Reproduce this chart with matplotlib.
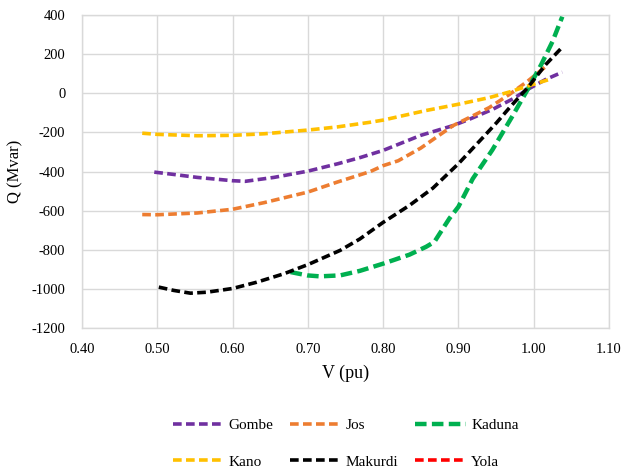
import matplotlib
matplotlib.use("Agg")
import matplotlib.pyplot as plt

plt.rcParams['font.family'] = ['Liberation Serif', 'DejaVu Serif']
plt.rcParams['axes.unicode_minus'] = False

# values (V in pu, Q in Mvar)
gombe_v = [0.496, 0.52, 0.553, 0.60, 0.617, 0.655, 0.70, 0.74, 0.77, 0.80, 0.85, 0.893,
           0.915, 0.946, 0.973, 0.992, 1.016, 1.038]
gombe_q = [-403, -414, -430, -447, -450, -430, -398, -360, -328, -292, -215, -165,
           -132, -81, -27, 20, 71, 108]

jos_v = [0.48, 0.50, 0.553, 0.60, 0.642, 0.70, 0.739, 0.783, 0.80, 0.82, 0.85, 0.893,
         0.915, 0.941, 0.968, 0.992, 1.017]
jos_q = [-620, -621, -612, -593, -559, -505, -454, -400, -370, -345, -280, -165,
         -123, -73, -5, 62, 140]

kaduna_v = [0.677, 0.699, 0.716, 0.743, 0.769, 0.80, 0.835, 0.857, 0.868, 0.888, 0.90,
            0.919, 0.945, 0.972, 0.992, 1.01, 1.025, 1.038]
kaduna_q = [-914, -931, -936, -931, -908, -871, -825, -785, -760, -640, -580,
            -437, -290, -115, 20, 147, 265, 392]

kano_v = [0.48, 0.50, 0.553, 0.60, 0.642, 0.70, 0.739, 0.783, 0.80, 0.857, 0.90, 0.941,
          0.968, 0.992, 1.021]
kano_q = [-204, -210, -217, -215, -207, -188, -172, -148, -137, -88, -56, -22,
          7, 37, 71]

makurdi_v = [0.502, 0.522, 0.544, 0.566, 0.60, 0.632, 0.668, 0.70, 0.743, 0.769, 0.80,
             0.835, 0.866, 0.90, 0.933, 0.951, 0.968, 0.992, 1.016, 1.038]
makurdi_q = [-991, -1008, -1022, -1017, -998, -966, -923, -876, -803, -745, -660,
             -573, -485, -360, -224, -149, -73, 29, 147, 236]

yola_v = []
yola_q = []

xticks = [0.40, 0.50, 0.60, 0.70, 0.80, 0.90, 1.00, 1.10]
yticks = [-1200, -1000, -800, -600, -400, -200, 0, 200, 400]

fig = plt.figure(figsize=(6.25, 4.72), dpi=100)
ax = fig.add_axes([0.1312, 0.3051, 0.8432, 0.663])

style = dict(lw=2.6, dashes=(2.4, 1.2))
l1, = ax.plot(gombe_v, gombe_q, color='#7030A0', label='Gombe', **style)
l2, = ax.plot(jos_v, jos_q, color='#ED7D31', label='Jos', **style)
l3, = ax.plot(kaduna_v, kaduna_q, color='#00B050', label='Kaduna', lw=3.2, dashes=(2.6, 1.2))
l4, = ax.plot(kano_v, kano_q, color='#FFC000', label='Kano', **style)
l5, = ax.plot(makurdi_v, makurdi_q, color='#000000', label='Makurdi', **style)
l6, = ax.plot(yola_v, yola_q, color='#FF0000', label='Yola', **style)

ax.set_xlim(0.40, 1.10)
ax.set_ylim(-1200, 400)
ax.set_xticks(xticks)
ax.set_xticklabels(['%.2f' % t for t in xticks])
ax.set_yticks(yticks)
ax.tick_params(length=0, labelsize=10.5)
ax.tick_params(axis='y', pad=12)
ax.tick_params(axis='x', pad=11)
ax.grid(True, color='#D9D9D9', lw=1)
ax.set_axisbelow(True)
for s in ax.spines.values():
    s.set_color('#D9D9D9')
    s.set_linewidth(1)

ax.set_xlabel('V (pu)', fontsize=13, labelpad=6)
ax.set_ylabel('Q (Mvar)', fontsize=12, labelpad=6)

# Excel fills the legend row by row, matplotlib column by column
fig.legend([l1, l4, l2, l5, l3, l6], ['Gombe', 'Kano', 'Jos', 'Makurdi', 'Kaduna', 'Yola'],
           ncol=3, loc='center', bbox_to_anchor=(0.553, 0.06), frameon=False,
           fontsize=11, handlelength=3.3, handletextpad=0.35, columnspacing=1.1,
           labelspacing=1.5)

fig.savefig('out.png', dpi=100)
